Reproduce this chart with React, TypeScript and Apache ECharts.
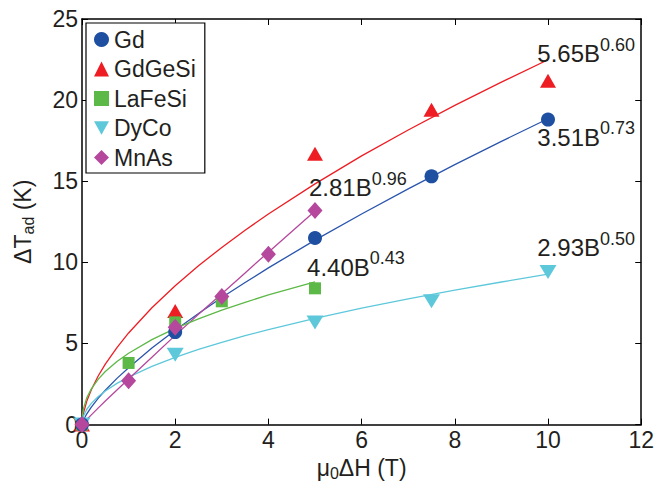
import React, { useEffect, useRef } from 'react';
import * as echarts from 'echarts';

// Measured points
const gdX = [0, 2, 5, 7.5, 10];
const gdY = [0, 5.7, 11.5, 15.3, 18.8];
const gdgesiX = [0, 2, 5, 7.5, 10];
const gdgesiY = [0, 7.0, 16.7, 19.4, 21.2];
const lafesiX = [0, 1, 2, 3, 5];
const lafesiY = [0, 3.8, 6.3, 7.6, 8.4];
const dycoX = [0, 2, 5, 7.5, 10];
const dycoY = [0, 4.3, 6.3, 7.6, 9.4];
const mnasX = [0, 1, 2, 3, 4, 5];
const mnasY = [0, 2.7, 6.0, 7.9, 10.5, 13.2];

// Fit curves
const fitX = [0, 0.01, 0.03, 0.1, 0.2, 0.35, 0.5, 0.75, 1, 1.5, 2, 2.5, 3, 3.5, 4, 5, 6, 7, 8, 9, 10];
const fitGd = [0, 0.12, 0.27, 0.65, 1.08, 1.63, 2.12, 2.85, 3.51, 4.72, 5.82, 6.85, 7.83, 8.76, 9.66, 11.37, 12.98, 14.53, 16.02, 17.46, 18.85];
const fitGdGeSi = [0, 0.36, 0.69, 1.42, 2.15, 3.01, 3.73, 4.75, 5.65, 7.2, 8.56, 9.79, 10.92, 11.98, 12.98, 14.84, 16.56, 18.16, 19.68, 21.11, 22.49];
const fitDyCo = [0, 0.29, 0.51, 0.93, 1.31, 1.73, 2.07, 2.54, 2.93, 3.59, 4.14, 4.63, 5.07, 5.48, 5.86, 6.55, 7.18, 7.75, 8.29, 8.79, 9.27];
const fitLaFeSi = [0, 0.61, 0.97, 1.63, 2.2, 2.8, 3.27, 3.89, 4.4, 5.24, 5.93, 6.52, 7.06, 7.54, 7.99, 8.79];
const fitMnAs = [0, 0.03, 0.1, 0.31, 0.6, 1.03, 1.45, 2.13, 2.81, 4.15, 5.5, 6.8, 8.07, 9.35, 10.63, 13.17];

// Fit annotations: coefficient, exponent, anchor in data coords
const fitCoef = ['5.65', '3.51', '2.93', '2.81', '4.40'];
const fitExp = ['0.60', '0.73', '0.50', '0.96', '0.43'];
const fitAnchorX = [9.77, 9.77, 9.77, 4.87, 4.83];
const fitAnchorY = [22.85, 17.7, 10.9, 14.6, 9.7];

const xTicks = { min: 0, max: 12, interval: 2 };
const yTicks = { min: 0, max: 25, interval: 5 };

const FONT = '"Liberation Sans", Arial, Helvetica, sans-serif';
const TXT = '#231f20';
const C = {
  gd: '#1f4fa0',
  gdLine: '#2a55ad',
  red: '#ee1d23',
  green: '#5db947',
  cyan: '#5ec8db',
  mag: '#b5489d',
};
const DOWN_TRI = 'path://M0,0 L10,0 L5,9 Z';

const zip = (xs: number[], ys: number[]) => ys.map((y, i) => [xs[i], y]);

export default function App() {
  const ref = useRef<HTMLDivElement>(null);
  useEffect(() => {
    if (!ref.current) return;
    const chart = echarts.init(ref.current, null, { renderer: 'svg' });

    const annot = fitCoef.map((c, i) => ({
      coord: [fitAnchorX[i], fitAnchorY[i]],
      symbol: 'circle',
      symbolSize: 0,
      label: {
        show: true,
        position: 'inside',
        align: 'left',
        verticalAlign: 'middle',
        formatter: `{m|${c}B}{s|${fitExp[i]}}`,
        rich: {
          m: { fontSize: 24, lineHeight: 36, color: TXT, fontFamily: FONT },
          s: { fontSize: 18, lineHeight: 15, verticalAlign: 'top', color: TXT, fontFamily: FONT },
        },
      },
    }));

    const fitSeries = (name: string, xs: number[], ys: number[], color: string, marks?: any[]) => ({
      name,
      type: 'line',
      data: zip(xs, ys),
      showSymbol: false,
      symbol: 'none',
      smooth: false,
      lineStyle: { color, width: 1.3 },
      z: 2,
      silent: true,
      markPoint: marks ? { silent: true, data: marks, animation: false } : undefined,
    });

    const scat = (name: string, xs: number[], ys: number[], color: string, symbol: string, size: any) => ({
      name,
      type: 'scatter',
      data: zip(xs, ys),
      symbol,
      symbolSize: size,
      itemStyle: { color, opacity: 1 },
      z: 5,
    });

    const sub = { fontSize: 16, lineHeight: 14, verticalAlign: 'bottom', color: TXT, fontFamily: FONT };

    chart.setOption({
      animation: false,
      textStyle: { fontFamily: FONT, color: TXT },
      grid: { left: 82, right: 11, top: 19, bottom: 55, containLabel: false },
      legend: {
        data: ['Gd', 'GdGeSi', 'LaFeSi', 'DyCo', 'MnAs'],
        orient: 'vertical',
        left: 86,
        top: 23,
        padding: [5, 9, 4, 8],
        itemGap: 6.5,
        itemWidth: 15,
        itemHeight: 15,
        backgroundColor: '#ffffff',
        borderColor: '#000000',
        borderWidth: 1.2,
        borderRadius: 0,
        textStyle: { fontSize: 23, lineHeight: 22, color: TXT, fontFamily: FONT, padding: [0, 0, 0, 0] },
        z: 10,
      },
      xAxis: [
        {
          type: 'value',
          ...xTicks,
          position: 'bottom',
          name: '{a|μ}{s|0}{a|ΔH (T)}',
          nameLocation: 'middle',
          nameGap: 25,
          nameTextStyle: {
            rich: {
              a: { fontSize: 23, lineHeight: 26, color: TXT, fontFamily: FONT },
              s: sub,
            },
          },
          axisLine: { show: true, onZero: false, lineStyle: { color: '#000', width: 1.5 } },
          axisTick: { show: true, inside: true, length: 6, lineStyle: { color: '#000', width: 1 } },
          axisLabel: { fontSize: 23, color: TXT, fontFamily: FONT, margin: 4 },
          splitLine: { show: false },
        },
        {
          type: 'value',
          ...xTicks,
          position: 'top',
          axisLine: { show: true, onZero: false, lineStyle: { color: '#000', width: 1.5 } },
          axisTick: { show: true, inside: true, length: 6, lineStyle: { color: '#000', width: 1 } },
          axisLabel: { show: false },
          splitLine: { show: false },
        },
      ],
      yAxis: [
        {
          type: 'value',
          ...yTicks,
          position: 'left',
          name: '{a|ΔT}{s|ad}{a| (K)}',
          nameLocation: 'middle',
          nameGap: 46,
          nameRotate: 90,
          nameTextStyle: {
            rich: {
              a: { fontSize: 23, lineHeight: 26, color: TXT, fontFamily: FONT },
              s: sub,
            },
          },
          axisLine: { show: true, onZero: false, lineStyle: { color: '#000', width: 1.5 } },
          axisTick: { show: true, inside: true, length: 6, lineStyle: { color: '#000', width: 1 } },
          axisLabel: { fontSize: 23, color: TXT, fontFamily: FONT, margin: 4 },
          splitLine: { show: false },
        },
        {
          type: 'value',
          ...yTicks,
          position: 'right',
          axisLine: { show: true, onZero: false, lineStyle: { color: '#000', width: 1.5 } },
          axisTick: { show: true, inside: true, length: 6, lineStyle: { color: '#000', width: 1 } },
          axisLabel: { show: false },
          splitLine: { show: false },
        },
      ],
      series: [
        fitSeries('GdGeSi fit', fitX, fitGdGeSi, C.red, [annot[0]]),
        fitSeries('Gd fit', fitX, fitGd, C.gdLine, [annot[1]]),
        fitSeries('DyCo fit', fitX, fitDyCo, C.cyan, [annot[2]]),
        fitSeries('MnAs fit', fitX.slice(0, fitMnAs.length), fitMnAs, C.mag, [annot[3]]),
        fitSeries('LaFeSi fit', fitX.slice(0, fitLaFeSi.length), fitLaFeSi, C.green, [annot[4]]),
        scat('GdGeSi', gdgesiX, gdgesiY, C.red, 'triangle', [16, 14]),
        scat('LaFeSi', lafesiX, lafesiY, C.green, 'rect', 12),
        scat('DyCo', dycoX, dycoY, C.cyan, DOWN_TRI, [17, 14]),
        scat('Gd', gdX, gdY, C.gd, 'circle', 14),
        scat('MnAs', mnasX, mnasY, C.mag, 'diamond', [15, 17]),
      ],
    });
    return () => chart.dispose();
  }, []);
  return (
    <div
      ref={ref}
      style={{ position: 'fixed', left: 0, top: 0, width: 657, height: 486, background: '#fff' }}
    />
  );
}
